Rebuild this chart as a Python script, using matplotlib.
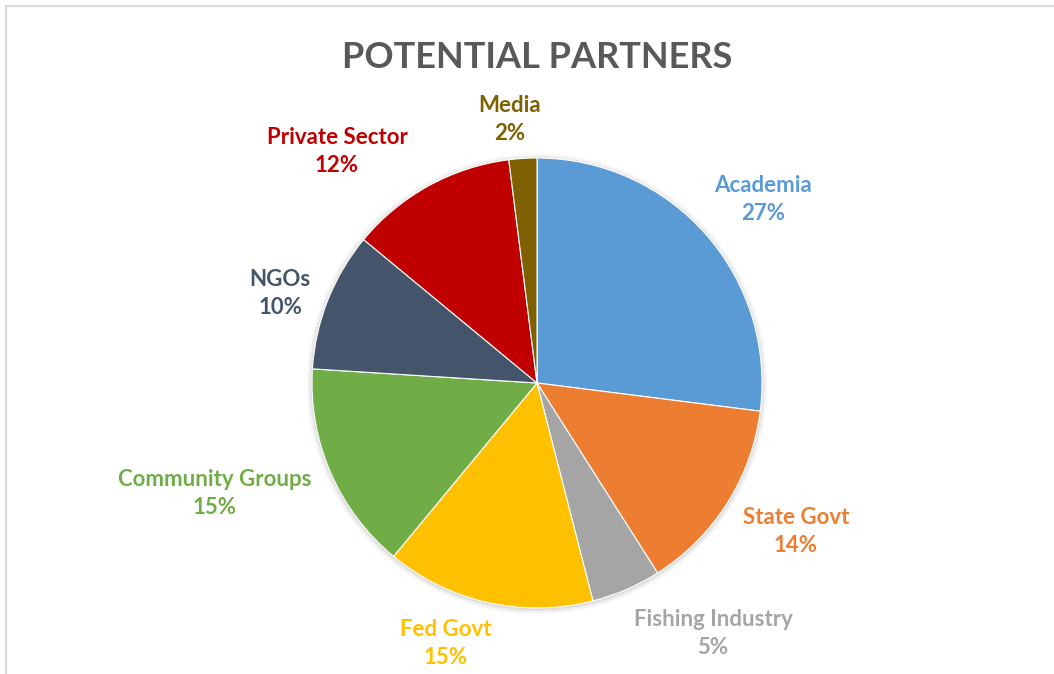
import matplotlib.pyplot as plt
from matplotlib.patches import Circle, Rectangle

# ── Data ──────────────────────────────────────────────────────────────────────
partners = ["Academia", "State Govt", "Fishing Industry", "Fed Govt",
            "Community Groups", "NGOs", "Private Sector", "Media"]
shares = [27, 14, 5, 15, 15, 10, 12, 2]
colors = ["#5B9BD5", "#ED7D31", "#A5A5A5", "#FFC000",
          "#70AD47", "#44546A", "#C00000", "#7F6000"]

# label centres (pixels, measured from the top-left corner)
label_xy = [(763, 186), (796, 518), (713, 620), (446, 630),
            (215, 480), (280, 280), (337, 137), (510, 105)]

W, H = 1054, 674
CX, CY, R = 537, 383, 225

plt.rcParams["font.family"] = ["Lato", "DejaVu Sans"]

fig = plt.figure(figsize=(W / 100, H / 100), dpi=100)
ax = fig.add_axes([0, 0, 1, 1])

# soft shadow under the pie
for i, a in enumerate([0.05, 0.04, 0.03, 0.02]):
    ax.add_patch(Circle((CX, H - CY - 1), R + 1 + 1.5 * i, color="black",
                        alpha=a, lw=0, zorder=0))

ax.pie(shares, colors=colors, startangle=90, counterclock=False,
       center=(CX, H - CY), radius=R, frame=True,
       wedgeprops=dict(edgecolor="white", linewidth=0.8))
ax.set_xlim(0, W)
ax.set_ylim(0, H)
ax.set_aspect("equal")
ax.axis("off")

for name, val, col, (x, y) in zip(partners, shares, colors, label_xy):
    ax.text(x, H - y, name, color=col, fontsize=16, fontweight="bold",
            ha="center", va="center")
    ax.text(x, H - y - 28, f"{val}%", color=col, fontsize=16,
            fontweight="bold", ha="center", va="center")

ax.text(537, H - 58, "POTENTIAL PARTNERS", color="#595959", fontsize=26,
        fontweight="bold", ha="center", va="center")

# chart frame, only the top and left edges fall inside the image
fig.patches.append(Rectangle((6 / W, -0.1), 1.2, 1.1 - 6 / H, fill=False,
                             edgecolor="#D9D9D9", linewidth=1.5,
                             transform=fig.transFigure))

fig.savefig("out.png", dpi=100)
